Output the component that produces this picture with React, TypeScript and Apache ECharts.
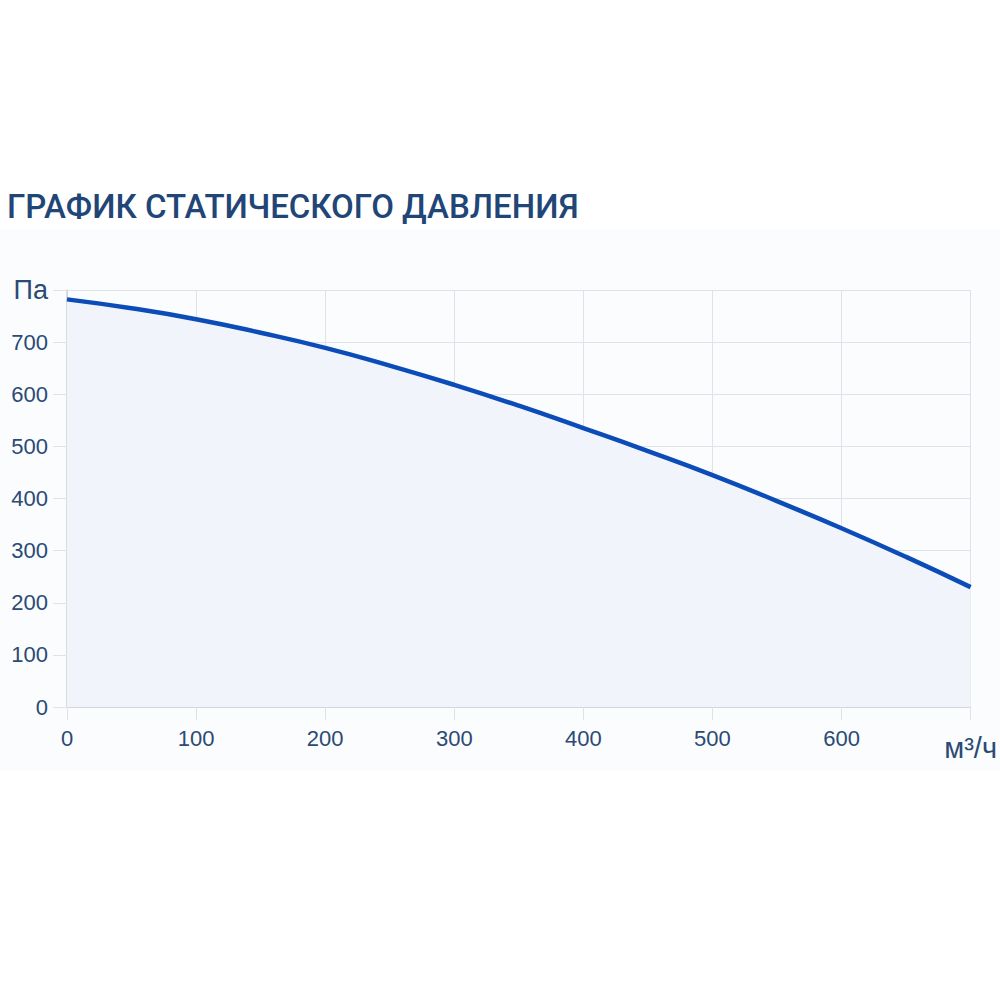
import React, { useEffect, useRef } from "react";
import * as echarts from "echarts";

const flowValues = [0, 50, 100, 150, 200, 250, 300, 350, 400, 450, 500, 550, 600, 650, 700];
const pressureValues = [782, 765, 744, 718, 689, 655, 618, 578, 535, 491, 445, 395, 343, 288, 230];
const titleText = "ГРАФИК СТАТИЧЕСКОГО ДАВЛЕНИЯ";
const yUnit = "Па";
const xUnit = "м³/ч";

export default function App() {
  const ref = useRef<HTMLDivElement>(null);
  useEffect(() => {
    const chart = echarts.init(ref.current!, null, { renderer: "svg" });
    const gridColor = "#dfe2e8";
    const labelColor = "#2b4a74";
    const labelFont = "Liberation Sans";
    chart.setOption({
      animation: false,
      backgroundColor: "#ffffff",
      graphic: [
        { type: "rect", z: -10, shape: { x: 0, y: 230, width: 1000, height: 540 }, style: { fill: "#fafcfe" } },
      ],
      title: {
        text: titleText,
        left: 2,
        top: 185,
        textStyle: { fontFamily: "Roboto", fontSize: 33, fontWeight: 500, color: "#1f4677" },
      },
      grid: { left: 67, right: 29, top: 290, bottom: 293, containLabel: false },
      xAxis: {
        type: "value",
        min: 0,
        max: 700,
        interval: 100,
        axisLine: { show: true, lineStyle: { color: "#cdd1d8", width: 1.5 } },
        axisTick: { show: true, length: 13, lineStyle: { color: gridColor } },
        splitLine: { show: true, lineStyle: { color: gridColor } },
        axisLabel: {
          margin: 20,
          fontFamily: labelFont,
          fontSize: 22,
          color: labelColor,
          formatter: (v: number) => (v === 700 ? "{u|" + xUnit + "}" : String(v)),
          rich: { u: { fontFamily: labelFont, fontSize: 29, color: labelColor, padding: [6, 0, 0, 0] } },
        },
      },
      yAxis: {
        type: "value",
        min: 0,
        max: 800,
        interval: 100,
        axisLine: { show: true, lineStyle: { color: "#cdd1d8", width: 1.5 } },
        axisTick: { show: true, length: 14, lineStyle: { color: gridColor } },
        splitLine: { show: true, lineStyle: { color: gridColor } },
        axisLabel: {
          margin: 19,
          fontFamily: labelFont,
          fontSize: 22,
          color: labelColor,
          formatter: (v: number) => (v === 800 ? "{u|" + yUnit + "}" : String(v)),
          rich: { u: { fontFamily: labelFont, fontSize: 27, color: labelColor } },
        },
      },
      series: [
        {
          type: "line",
          data: flowValues.map((x, i) => [x, pressureValues[i]]),
          smooth: true,
          showSymbol: false,
          lineStyle: { color: "#0b4cb9", width: 4.5 },
          areaStyle: { color: "#f1f5fb", opacity: 1 },
        },
      ],
    });
    return () => chart.dispose();
  }, []);
  return <div ref={ref} style={{ position: "fixed", left: 0, top: 0, width: 1000, height: 1000 }} />;
}
